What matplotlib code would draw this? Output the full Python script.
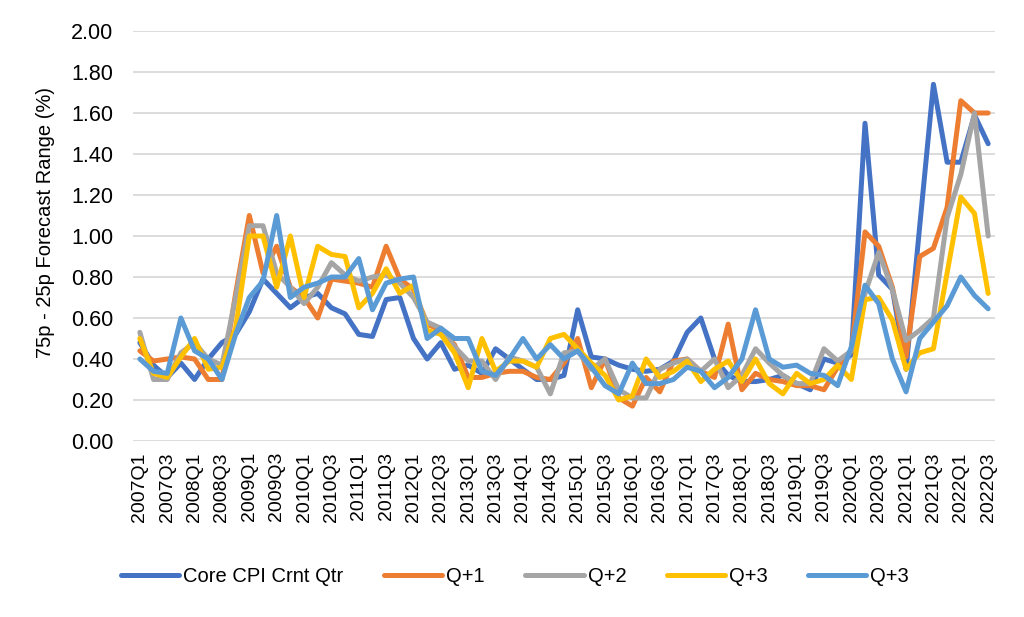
import matplotlib
matplotlib.use("Agg")
import matplotlib.pyplot as plt
from matplotlib.ticker import FormatStrFormatter

plt.rcParams['font.family'] = ['Liberation Sans', 'DejaVu Sans']

quarters = [f"{y}Q{q}" for y in range(2007, 2023) for q in range(1, 5)][:63]

core = [0.48, 0.37, 0.31, 0.38, 0.30, 0.40, 0.48, 0.52, 0.63, 0.79, 0.72, 0.65, 0.70, 0.72, 0.65, 0.62,
        0.52, 0.51, 0.69, 0.70, 0.50, 0.40, 0.48, 0.35, 0.37, 0.33, 0.45, 0.40, 0.35, 0.30, 0.30, 0.32,
        0.64, 0.41, 0.40, 0.37, 0.35, 0.34, 0.35, 0.39, 0.53, 0.60, 0.40, 0.32, 0.29, 0.29, 0.30, 0.32,
        0.28, 0.25, 0.40, 0.38, 0.42, 1.55, 0.81, 0.74, 0.35, 1.05, 1.74, 1.36, 1.36, 1.59, 1.45]
q1 = [0.44, 0.39, 0.40, 0.41, 0.40, 0.30, 0.30, 0.72, 1.10, 0.82, 0.95, 0.75, 0.70, 0.60, 0.79, 0.78,
      0.77, 0.75, 0.95, 0.79, 0.74, 0.57, 0.54, 0.47, 0.31, 0.31, 0.33, 0.34, 0.34, 0.31, 0.30, 0.38,
      0.50, 0.26, 0.40, 0.21, 0.17, 0.31, 0.24, 0.39, 0.40, 0.34, 0.31, 0.57, 0.25, 0.33, 0.30, 0.29,
      0.27, 0.27, 0.25, 0.36, 0.44, 1.02, 0.95, 0.75, 0.41, 0.90, 0.94, 1.14, 1.66, 1.60, 1.60]
q2 = [0.53, 0.30, 0.30, 0.43, 0.48, 0.40, 0.37, 0.70, 1.05, 1.05, 0.82, 0.75, 0.67, 0.75, 0.87, 0.81,
      0.78, 0.80, 0.81, 0.77, 0.70, 0.58, 0.55, 0.46, 0.39, 0.39, 0.30, 0.41, 0.39, 0.36, 0.23, 0.43,
      0.44, 0.35, 0.40, 0.25, 0.21, 0.21, 0.35, 0.38, 0.40, 0.34, 0.40, 0.26, 0.32, 0.45, 0.38, 0.32,
      0.28, 0.28, 0.45, 0.39, 0.44, 0.72, 0.92, 0.74, 0.49, 0.54, 0.60, 1.09, 1.30, 1.60, 1.00]
q3a = [0.50, 0.33, 0.31, 0.41, 0.50, 0.35, 0.36, 0.55, 1.00, 1.00, 0.75, 1.00, 0.70, 0.95, 0.91, 0.90,
       0.65, 0.72, 0.84, 0.72, 0.76, 0.54, 0.52, 0.43, 0.26, 0.50, 0.34, 0.39, 0.39, 0.36, 0.50, 0.52,
       0.45, 0.38, 0.32, 0.20, 0.22, 0.40, 0.31, 0.34, 0.39, 0.29, 0.35, 0.39, 0.29, 0.40, 0.28, 0.23,
       0.33, 0.28, 0.30, 0.37, 0.30, 0.69, 0.70, 0.59, 0.35, 0.43, 0.45, 0.82, 1.19, 1.11, 0.72]
q3b = [0.40, 0.34, 0.33, 0.60, 0.44, 0.40, 0.30, 0.52, 0.70, 0.78, 1.10, 0.70, 0.75, 0.77, 0.80, 0.80,
       0.89, 0.64, 0.77, 0.79, 0.80, 0.50, 0.55, 0.50, 0.50, 0.34, 0.32, 0.40, 0.50, 0.40, 0.47, 0.40,
       0.44, 0.36, 0.27, 0.23, 0.38, 0.28, 0.28, 0.30, 0.36, 0.34, 0.26, 0.31, 0.40, 0.64, 0.40, 0.36,
       0.37, 0.33, 0.32, 0.27, 0.46, 0.76, 0.67, 0.40, 0.24, 0.50, 0.58, 0.66, 0.80, 0.71, 0.645]

series = [("Core CPI Crnt Qtr", core, "#4472C4"),
          ("Q+1", q1, "#ED7D31"),
          ("Q+2", q2, "#A5A5A5"),
          ("Q+3", q3a, "#FFC000"),
          ("Q+3", q3b, "#5B9BD5")]

fig = plt.figure(figsize=(10.24, 6.17), dpi=100)
ax = fig.add_axes([133/1024, 1-441/617, (995-133)/1024, (441-31)/617])

x = list(range(len(quarters)))
for name, vals, col in series:
    ax.plot(x, vals, color=col, lw=3.6, label=name, solid_joinstyle='round', solid_capstyle='round')

ax.set_xlim(-0.5, len(quarters) - 0.5)
ax.set_ylim(0, 2.0)
ax.set_yticks([i * 0.2 for i in range(11)])
ax.yaxis.set_major_formatter(FormatStrFormatter('%.2f'))
ax.set_xticks(x[::2])
ax.set_xticklabels(quarters[::2], rotation=90)
ax.grid(axis='y', color='#D9D9D9', lw=1.3)
ax.set_axisbelow(True)
for s in ax.spines.values():
    s.set_visible(False)
ax.tick_params(axis='y', length=0, pad=14, labelsize=15.5, colors='#000000')
ax.tick_params(axis='x', length=0, pad=8, labelsize=14)

fig.text(46/1024, 1-223/617, "75p - 25p Forecast Range (%)", rotation=90,
         ha='center', va='center', fontsize=14.5)

fig.legend(loc='center', bbox_to_anchor=(0.503, 1-577/617), ncol=5, frameon=False,
           fontsize=14.5, handlelength=2.9, handletextpad=0.2, columnspacing=2.0)

fig.savefig("out.png", dpi=100)
